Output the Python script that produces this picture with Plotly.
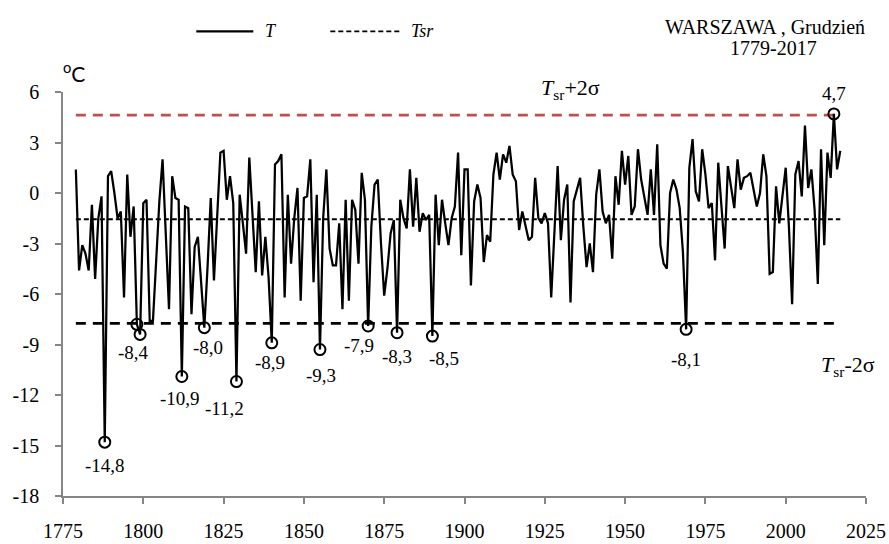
import plotly.graph_objects as go

# ---------------- data ----------------
years = list(range(1779, 2018))
t_values = [
    1.4, -4.6, -3.1, -3.6, -4.6, -0.7, -5.1, -1.5, -0.2, -14.8, 1.0,      # 1779-1789
    1.3, 0.0, -1.5, -1.1, -6.2, 1.1, -2.6, -0.8, -7.8, -8.4,              # 1790s
    -0.6, -0.4, -7.6, -7.6, -4.0, -0.5, 2.0, -2.4, -6.9, 1.0,             # 1800s
    -0.3, -0.4, -10.9, -0.8, -0.9, -7.2, -3.2, -2.6, -5.6, -8.0,          # 1810s
    -4.4, -0.3, -5.2, -1.0, 2.4, 2.5, -0.4, 1.0, -0.6, -11.2,             # 1820s
    -0.1, -1.8, -3.6, 2.1, -1.5, -4.7, -0.5, -4.9, -2.6, -5.0,            # 1830s
    -8.9, 1.7, 1.9, 2.3, -6.2, -0.1, -4.2, -1.5, 0.3, -6.4,               # 1840s
    -0.3, -0.2, 2.0, -5.3, -0.1, -9.3, -1.5, 1.4, -3.3, -4.3,             # 1850s
    -4.3, -1.8, -6.9, -0.4, -6.4, -0.4, -1.0, -4.2, 1.2, -0.4,            # 1860s
    -7.9, -2.0, 0.5, 0.8, -3.0, -6.1, -4.5, -2.4, -1.6, -8.3,             # 1870s
    -0.4, -1.5, -2.1, 1.4, -2.0, 0.9, -2.3, -1.2, -1.6, -1.3,             # 1880s
    -8.5, -0.1, -3.1, -0.4, -1.8, -3.1, -1.5, -0.8, 2.4, -3.7,            # 1890s
    1.4, 1.4, -5.5, -0.5, 0.5, -0.3, -4.1, -2.5, -2.9, 1.1,               # 1900s
    2.4, 0.8, 2.3, 1.8, 2.8, 1.1, 0.7, -2.2, -1.1, -1.9,                  # 1910s
    -2.8, -2.6, 0.9, -1.5, -1.8, -1.2, -1.8, -6.2, -2.2, 1.6,             # 1920s
    -2.8, -0.4, 0.5, -6.5, -0.5, 0.2, 0.9, -2.0, -4.4, -3.0,              # 1930s
    -4.7, -0.1, 1.4, -1.1, -1.8, -1.3, -3.9, 1.0, -0.7, 2.5,              # 1940s
    0.5, 2.2, -1.3, -0.8, 2.6, 0.8, -0.2, -1.3, 1.4, -1.3,                # 1950s
    2.9, -3.1, -4.2, -4.5, 0.0, 0.8, 0.2, -0.9, -3.5, -8.1,               # 1960s
    1.5, 3.2, 0.1, -0.5, 2.6, 1.1, -0.9, -0.6, -4.0, 1.8,                 # 1970s
    -0.8, -3.3, 1.6, 0.2, -0.9, 2.0, 0.2, 0.9, 1.0, 1.2,                  # 1980s
    0.2, -0.8, 0.0, 2.3, 1.0, -4.8, -4.7, 0.4, -1.8, -0.2,                # 1990s
    1.5, -2.0, -6.6, 1.1, 1.9, -0.2, 4.0, 0.3, 1.4, -1.0,                 # 2000s
    -5.4, 2.6, -3.1, 2.4, 0.9, 4.7, 1.4, 2.5,                             # 2010-2017
]
t_mean = -1.56
t_sigma = 3.09

marked_years = [1788, 1798, 1799, 1812, 1819, 1829, 1840, 1855, 1870, 1879, 1890, 1969, 2015]
labelled_years = [1788, 1799, 1812, 1819, 1829, 1840, 1855, 1870, 1879, 1890, 1969, 2015]

x_ticks = [1775, 1800, 1825, 1850, 1875, 1900, 1925, 1950, 1975, 2000, 2025]
y_ticks = [-18, -15, -12, -9, -6, -3, 0, 3, 6]

# ---------------- styles ----------------
SERIF = "Liberation Serif, Times New Roman, DejaVu Serif, serif"
AXIS_GREY = "#868686"
RED = "#c0504d"
W, H = 889, 544
ML, MR, MT, MB = 62.7, 23.3, 91.7, 48.0
PW, PH = W - ML - MR, H - MT - MB

def px_x(px):
    return (px - ML) / PW

def px_y(py):
    return (H - MB - py) / PH

# label offsets (xshift, yshift) in pixels
label_offsets = {
    1788: (0, -23), 1799: (-7, -18), 1812: (-2, -22), 1819: (4, -20),
    1829: (-12, -27), 1840: (-2, -20), 1855: (1, -26), 1870: (-9, -20),
    1879: (0, -24), 1890: (12, -22), 1969: (0, -30), 2015: (0, 20),
}

value_of = dict(zip(years, t_values))
upper = t_mean + 2 * t_sigma
lower = t_mean - 2 * t_sigma

fig = go.Figure()

fig.add_trace(go.Scatter(
    x=[years[0], years[-1]], y=[upper, upper], mode="lines",
    line=dict(color=RED, width=2.75, dash="10px,7px"), hoverinfo="skip"))
fig.add_trace(go.Scatter(
    x=[years[0], years[-1]], y=[lower, lower], mode="lines",
    line=dict(color="black", width=2.75, dash="10px,7px"), hoverinfo="skip"))
fig.add_trace(go.Scatter(
    x=[years[0], years[-1]], y=[t_mean, t_mean], mode="lines",
    line=dict(color="black", width=1.8, dash="5px,3px"), hoverinfo="skip"))
fig.add_trace(go.Scatter(
    x=years, y=t_values, mode="lines",
    line=dict(color="black", width=2.25)))
fig.add_trace(go.Scatter(
    x=marked_years, y=[value_of[y] for y in marked_years], mode="markers",
    marker=dict(symbol="circle-open", size=11, color="black",
                line=dict(width=2, color="black"))))

annotations = []
for yr in labelled_years:
    v = value_of[yr]
    dx, dy = label_offsets[yr]
    annotations.append(dict(
        x=yr, y=v, xref="x", yref="y", showarrow=False,
        xanchor="center", yanchor="middle",
        text=f"{v:.1f}".replace(".", ","), xshift=dx, yshift=dy,
        font=dict(family=SERIF, size=19, color="black")))

def paper_text(px, py, text, size, family=SERIF, anchor="center"):
    return dict(x=px_x(px), y=px_y(py), xref="paper", yref="paper", showarrow=False,
                xanchor=anchor, yanchor="middle", text=text,
                font=dict(family=family, size=size, color="black"))

annotations += [
    dict(x=1933, y=upper, xref="x", yref="y", showarrow=False, yshift=26,
         xanchor="center", yanchor="middle",
         text="<i>T</i><sub>sr</sub>+2σ",
         font=dict(family=SERIF, size=22, color="black")),
    dict(x=2017, y=lower, xref="x", yref="y", showarrow=False, xshift=8, yshift=-43,
         xanchor="center", yanchor="middle",
         text="<i>T</i><sub>sr</sub>-2σ",
         font=dict(family=SERIF, size=22, color="black")),
    paper_text(74, 72, "<sup>o</sup>C", 21, family="Lato, Open Sans, sans-serif"),
    paper_text(765, 27, "WARSZAWA , Grudzień", 20),
    paper_text(773, 48, "1779-2017", 20),
    paper_text(263, 31, "<i>T</i>", 18, anchor="left"),
    paper_text(409, 31, "<i>Tsr</i>", 18, anchor="left"),
]

shapes = [
    dict(type="line", xref="paper", yref="paper", x0=px_x(196), x1=px_x(253),
         y0=px_y(31), y1=px_y(31), line=dict(color="black", width=2.25)),
    dict(type="line", xref="paper", yref="paper", x0=px_x(330), x1=px_x(400),
         y0=px_y(31), y1=px_y(31), line=dict(color="black", width=1.8, dash="5px,3px")),
]

fig.update_layout(
    width=W, height=H, autosize=False,
    margin=dict(l=ML, r=MR, t=MT, b=MB, pad=0, autoexpand=False),
    paper_bgcolor="white", plot_bgcolor="white",
    showlegend=False,
    annotations=annotations, shapes=shapes,
    xaxis=dict(range=[1775, 2025], tickvals=x_ticks, ticktext=[str(v) for v in x_ticks],
               automargin=False,
               showgrid=False, zeroline=False, showline=True, linecolor=AXIS_GREY, linewidth=1.5,
               ticks="outside", ticklen=6, tickcolor=AXIS_GREY, tickwidth=1.5,
               ticklabelstandoff=10,
               tickfont=dict(family=SERIF, size=20, color="black")),
    yaxis=dict(range=[-18, 6], tickvals=y_ticks, ticktext=[str(v) for v in y_ticks],
               automargin=False,
               showgrid=False, zeroline=False, showline=True, linecolor=AXIS_GREY, linewidth=1.5,
               ticks="outside", ticklen=6, tickcolor=AXIS_GREY, tickwidth=1.5,
               ticklabelstandoff=12,
               tickfont=dict(family=SERIF, size=20, color="black")),
)

fig.write_html("out.html")
